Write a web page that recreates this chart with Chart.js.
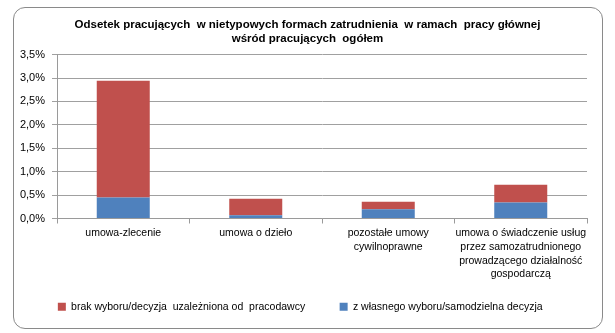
<!DOCTYPE html>
<html><head><meta charset="utf-8">
<script src="https://cdn.jsdelivr.net/npm/chart.js@4.4.1/dist/chart.umd.min.js"></script>
<style>
html,body{margin:0;padding:0;background:#fff;width:615px;height:333px;overflow:hidden}
#frame{position:absolute;left:13px;top:7px;width:588px;height:320px;border:1px solid #8a8a8a;border-radius:12px}
#wrap{position:absolute;left:0;top:0;width:615px;height:333px}
</style></head>
<body>
<div id="frame"></div>
<div id="wrap"><canvas id="c" width="615" height="333"></canvas></div>
<script>
const categories = [
  "umowa-zlecenie",
  "umowa o dzieło",
  ["pozostałe umowy", "cywilnoprawne"],
  ["umowa o świadczenie usług", "przez samozatrudnionego", "prowadzącego działalność", "gospodarczą"]
];
const ownChoice = [0.45, 0.07, 0.20, 0.34];      // z własnego wyboru/samodzielna decyzja
const noChoice  = [2.49, 0.35, 0.16, 0.38];      // brak wyboru/decyzja uzależniona od pracodawcy
const seriesNames = ["z własnego wyboru/samodzielna decyzja", "brak wyboru/decyzja  uzależniona od  pracodawcy"];
const titleLines = ["Odsetek pracujących  w nietypowych formach zatrudnienia  w ramach  pracy głównej", "wśród pracujących  ogółem"];
const yTicks = [0, 0.5, 1, 1.5, 2, 2.5, 3, 3.5];

const FONT = "'Liberation Sans', Arial, sans-serif";
new Chart(document.getElementById('c'), {
  type: 'bar',
  data: {
    labels: categories,
    datasets: [
      {label: seriesNames[0], data: ownChoice, backgroundColor: '#4F81BD', categoryPercentage: 1, barPercentage: 0.4},
      {label: seriesNames[1], data: noChoice, backgroundColor: '#C0504D', categoryPercentage: 1, barPercentage: 0.4}
    ]
  },
  options: {
    responsive: false,
    animation: false,
    layout: {padding: {left: 14, right: 14, top: 14, bottom: 11}},
    plugins: {
      title: {display: true, text: titleLines, color: '#000', font: {family: FONT, size: 11.5, weight: 'bold'}, padding: {top: 4, bottom: 9}, lineHeight: 16 / 11.5},
      legend: {
        position: 'bottom', reverse: true, maxHeight: 50,
        labels: {boxWidth: 8, boxHeight: 8, padding: 17, color: '#000', font: {family: FONT, size: 10.5},
          generateLabels: ch => {
            const items = Chart.defaults.plugins.legend.labels.generateLabels(ch);
            items.forEach(it => { it.text = it.text + (it.datasetIndex === 1 ? '      ' : '     '); });
            return items;
          }
        }
      },
      tooltip: {enabled: false}
    },
    scales: {
      x: {
        stacked: true,
        grid: {offset: true, drawOnChartArea: false, drawTicks: true, tickLength: 5, color: '#9a9a9a'},
        border: {color: '#9a9a9a'},
        ticks: {color: '#000', font: {family: FONT, size: 10.5, lineHeight: 1.3}, maxRotation: 0, autoSkip: false, padding: 3},
        afterFit: s => { s.height = 66; }
      },
      y: {
        stacked: true, min: 0, max: 3.5,
        afterBuildTicks: s => { s.ticks = yTicks.map(v => ({value: v})); },
        grid: {color: '#a0a0a0', tickLength: 5},
        border: {color: '#9a9a9a'},
        ticks: {color: '#000', font: {family: FONT, size: 11}, padding: 7, autoSkip: false,
          callback: v => v.toFixed(1).replace('.', ',') + '%'},
        afterFit: s => { s.width = 43; }
      },
      yRight: {
        position: 'right', display: true,
        grid: {display: false}, border: {display: false}, ticks: {display: false},
        afterFit: s => { s.width = 14; }
      }
    }
  }
});
</script>
</body></html>
